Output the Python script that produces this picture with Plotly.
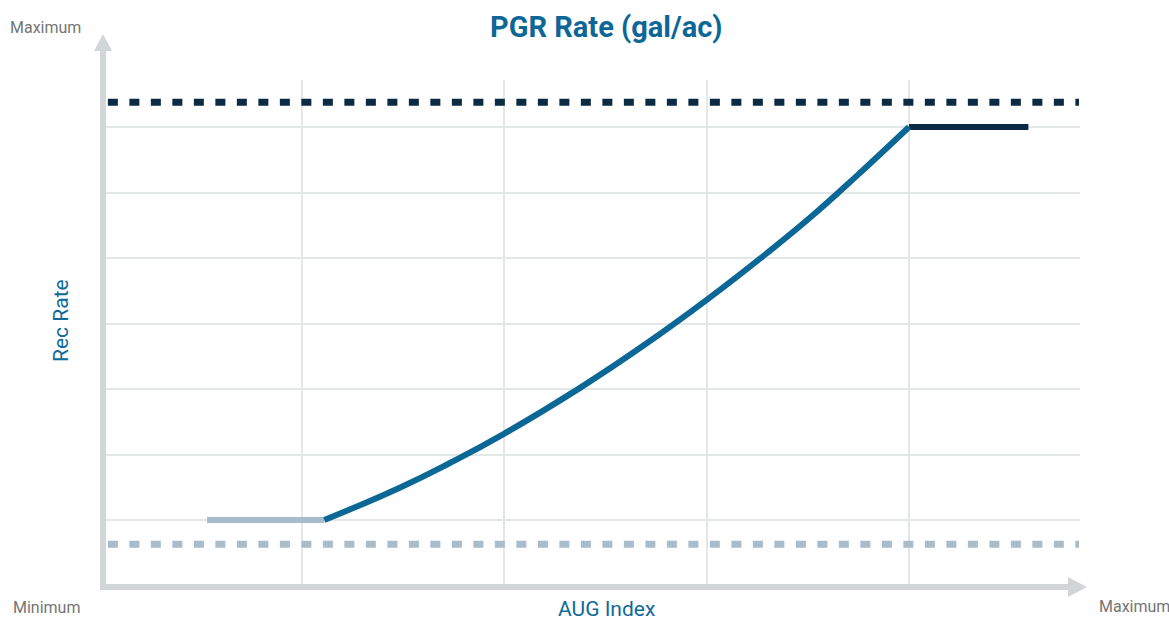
import plotly.graph_objects as go

# ---- data (grid units) ----
curve_x = [1.11, 1.48, 1.73, 2.00, 2.37, 2.70, 3.00, 3.30, 3.52, 3.74, 4.00]
curve_y = [1.00, 1.49, 1.87, 2.32, 3.01, 3.69, 4.36, 5.08, 5.64, 6.25, 7.00]
low_x = [0.53, 1.11]
low_y = [1.00, 1.00]
high_x = [4.00, 4.59]
high_y = [7.00, 7.00]
max_rate = 7.38
min_rate = 0.63
ref_x = [0.04, 4.84]
x_grid = [1, 2, 3, 4]
y_grid = [1, 2, 3, 4, 5, 6, 7]

BLUE = "#0a6796"
NAVY = "#0c2a44"
LIGHT = "#a9bccb"
AXIS = "#d3d6d6"
GRID = "#e4e7e7"

fig = go.Figure()
fig.add_trace(go.Scatter(x=ref_x, y=[max_rate] * 2, mode="lines",
                         line=dict(color=NAVY, width=7, dash="10px,11.5px")))
fig.add_trace(go.Scatter(x=ref_x, y=[min_rate] * 2, mode="lines",
                         line=dict(color=LIGHT, width=7, dash="10px,11.5px")))
fig.add_trace(go.Scatter(x=low_x, y=low_y, mode="lines",
                         line=dict(color=LIGHT, width=6)))
fig.add_trace(go.Scatter(x=high_x, y=high_y, mode="lines",
                         line=dict(color=NAVY, width=6)))
fig.add_trace(go.Scatter(x=curve_x, y=curve_y, mode="lines",
                         line=dict(color=BLUE, width=6, shape="spline", smoothing=1.3)))

L, R, T, B = 103, 89, 80, 33
W, H = 1169, 620
pw, ph = W - L - R, H - T - B

def px(p):  # pixel x -> paper
    return (p - L) / pw

def py(p):  # pixel y -> paper
    return (H - B - p) / ph

shapes = [
    # y axis
    dict(type="line", xref="paper", yref="paper", x0=px(103), x1=px(103),
         y0=py(590), y1=py(48), line=dict(color=AXIS, width=6)),
    dict(type="path", xref="paper", yref="paper", fillcolor=AXIS, line=dict(width=0),
         path=f"M{px(94)},{py(51)} L{px(103)},{py(34)} L{px(112)},{py(51)} Z"),
    # x axis
    dict(type="line", xref="paper", yref="paper", x0=px(100), x1=px(1072),
         y0=py(587), y1=py(587), line=dict(color=AXIS, width=6)),
    dict(type="path", xref="paper", yref="paper", fillcolor=AXIS, line=dict(width=0),
         path=f"M{px(1068)},{py(577)} L{px(1087)},{py(587)} L{px(1068)},{py(597)} Z"),
]

FONT = "Roboto"
ann = [
    dict(text="Maximum", x=px(45), y=py(28), font=dict(size=16, color="#757575")),
    dict(text="Minimum", x=px(46), y=py(607), font=dict(size=16, color="#757575")),
    dict(text="Maximum", x=px(1134), y=py(606), font=dict(size=16, color="#757575")),
    dict(text="AUG Index", x=px(606), y=py(609), font=dict(size=21, color="#0f6a99")),
    dict(text="Rec Rate", x=px(61), y=py(321), textangle=-90,
         font=dict(size=21, color="#0f6a99")),
    dict(text="<b>PGR Rate (gal/ac)</b>", x=px(606), y=py(27),
         font=dict(size=29, color="#0d6796")),
]
for a in ann:
    a.update(xref="paper", yref="paper", showarrow=False,
             xanchor="center", yanchor="middle")

fig.update_layout(
    width=W, height=H,
    margin=dict(l=L, r=R, t=T, b=B),
    paper_bgcolor="white", plot_bgcolor="white",
    showlegend=False,
    font=dict(family=FONT),
    shapes=shapes,
    annotations=ann,
    xaxis=dict(range=[0.016, 4.845], tickvals=x_grid, showticklabels=False,
               showgrid=True, gridcolor=GRID, gridwidth=2, zeroline=False,
               showline=False, ticks=""),
    yaxis=dict(range=[-0.023, 7.718], tickvals=y_grid, showticklabels=False,
               showgrid=True, gridcolor=GRID, gridwidth=2, zeroline=False,
               showline=False, ticks=""),
)

fig.write_html("out.html", config={"displayModeBar": False},
               post_script="document.body.style.margin='0px';document.body.style.overflow='hidden';")
